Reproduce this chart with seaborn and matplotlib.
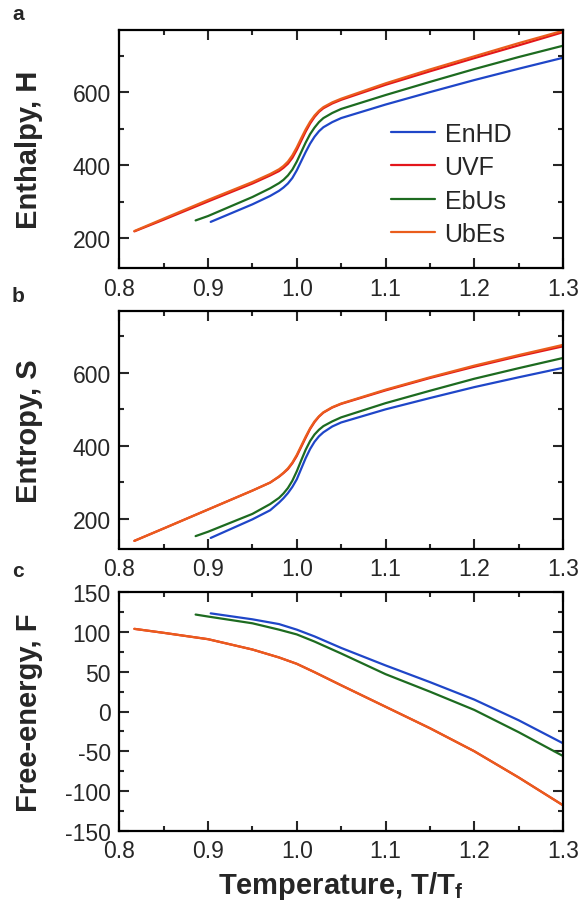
"""
Thermodynamic curves (H, S, F) vs reduced temperature for four models.
Writes out.png (584 x 903 px).
"""

import matplotlib
matplotlib.use("Agg")
import matplotlib.pyplot as plt
from matplotlib.ticker import MultipleLocator
import pandas as pd
import seaborn as sns

# ── Data ─────────────────────────────────────────────────────────────────────
MODELS = ["EnHD", "UVF", "EbUs", "UbEs"]

# temperature grids, T/Tf, for panels a and b (denser through the transition)
T_ENHD = [0.903, 0.95, 0.97, 0.98, 0.985, 0.99, 0.995, 1.0, 1.005, 1.01,
          1.015, 1.02, 1.025, 1.03, 1.04, 1.05, 1.1, 1.15, 1.2, 1.25, 1.3]
T_EBUS = [0.886, 0.9, 0.95, 0.97, 0.98, 0.985, 0.99, 0.995, 1.0, 1.005, 1.01,
          1.015, 1.02, 1.025, 1.03, 1.04, 1.05, 1.1, 1.15, 1.2, 1.25, 1.3]
T_UVF = [0.817, 0.85, 0.9, 0.95, 0.97, 0.98, 0.985, 0.99, 0.995, 1.0, 1.005,
         1.01, 1.015, 1.02, 1.025, 1.03, 1.04, 1.05, 1.1, 1.15, 1.2, 1.25, 1.3]
T_UBES = T_UVF

# panel a – enthalpy H
H_ENHD = [245, 293, 316, 330, 339, 350, 365, 386, 411, 436, 459,
          478, 493, 504, 518, 529, 566, 600, 633, 664, 694]
H_EBUS = [249, 261, 313, 337, 351, 360, 372, 388, 410, 436, 462,
          485, 503, 518, 529, 543, 554, 592, 628, 663, 696, 727]
H_UVF = [219, 251, 301, 350, 372, 384, 393, 404, 420, 442, 467,
         492, 514, 532, 546, 556, 569, 579, 620, 657, 693, 728, 764]
H_UBES = [220, 254, 305, 354, 376, 389, 398, 410, 427, 449, 474,
          498, 519, 536, 549, 559, 572, 582, 624, 662, 698, 734, 768]

# panel b – entropy S
S_ENHD = [147, 198, 223, 244, 256, 270, 287, 308, 337, 366, 391,
          411, 426, 437, 453, 464, 500, 531, 561, 588, 614]
S_EBUS = [152, 164, 213, 240, 257, 269, 284, 304, 330, 360, 389,
          413, 431, 444, 454, 467, 478, 517, 551, 584, 613, 641]
S_UVF = [139, 173, 225, 277, 299, 315, 325, 336, 352, 372, 397,
         422, 446, 465, 480, 491, 505, 515, 552, 586, 617, 646, 673]
S_UBES = [139, 173, 225, 277, 299, 316, 326, 338, 354, 375, 400,
          425, 448, 467, 481, 492, 506, 516, 554, 588, 620, 649, 677]

# panel c – free energy F (smooth, coarser grid is enough)
TC_ENHD = [0.903, 0.95, 0.98, 1.0, 1.02, 1.05, 1.1, 1.15, 1.2, 1.25, 1.3]
TC_EBUS = [0.886, 0.9, 0.95, 0.98, 1.0, 1.02, 1.05, 1.1, 1.15, 1.2, 1.25, 1.3]
TC_UVF = [0.817, 0.85, 0.9, 0.95, 0.98, 1.0, 1.02, 1.05, 1.1, 1.15, 1.2,
          1.25, 1.3]
TC_UBES = TC_UVF
F_ENHD = [123.5, 116, 110, 103, 94.5, 80, 58, 37, 15, -11, -40]
F_EBUS = [122, 119.5, 111, 103, 97, 88, 73, 47, 25, 2, -26, -56]
F_UVF = [104, 99, 91, 78, 68, 60, 49.5, 33, 6, -21, -50, -83, -118]
F_UBES = F_UVF

PALETTE = {"EnHD": "#1f46c8", "UVF": "#e3151b",
           "EbUs": "#1d6b20", "UbEs": "#ea5d1c"}

# ── Style ────────────────────────────────────────────────────────────────────
sns.set_style("ticks")
plt.rcParams.update({
    "font.family": ["Liberation Sans", "DejaVu Sans"],
    "mathtext.fontset": "custom",
    "mathtext.rm": "Liberation Sans",
    "mathtext.bf": "Liberation Sans:bold",
    "axes.unicode_minus": False,
    "axes.linewidth": 1.6,
    "axes.edgecolor": "black",
})


def long_frame(temps, ys):
    """Stack the four series of one panel into a tidy frame."""
    rows = []
    for model, t, y in zip(MODELS, temps, ys):
        rows += [{"T": a, "val": b, "model": model} for a, b in zip(t, y)]
    return pd.DataFrame(rows)


def style_axis(ax, ylim, ymajor, yminor, ylabel):
    ax.set_xlim(0.8, 1.3)
    ax.set_ylim(*ylim)
    ax.xaxis.set_major_locator(MultipleLocator(0.1))
    ax.xaxis.set_minor_locator(MultipleLocator(0.05))
    ax.yaxis.set_major_locator(MultipleLocator(ymajor))
    ax.yaxis.set_minor_locator(MultipleLocator(yminor))
    ax.tick_params(which="both", direction="in", top=True, right=True,
                   width=1.5, labelsize=16.5, pad=6)
    ax.tick_params(which="major", length=7.5)
    ax.tick_params(which="minor", length=3.8)
    ax.xaxis.set_major_formatter(plt.FormatStrFormatter("%.1f"))
    ax.set_xlabel("")
    ax.set_ylabel(ylabel, fontsize=21, fontweight="bold")
    ax.yaxis.set_label_coords(-0.172, 0.5)
    for s in ax.spines.values():
        s.set_visible(True)
        s.set_linewidth(1.6)


fig = plt.figure(figsize=(5.84, 9.03), dpi=100)
L, W = 119.3 / 584, (563 - 119.3) / 584
tops = [31, 312, 593.3]
bots = [269.3, 549.5, 831.7]
axes = [fig.add_axes([L, 1 - b / 903, W, (b - t) / 903]) for t, b in zip(tops, bots)]

ab_temps = [T_ENHD, T_UVF, T_EBUS, T_UBES]
c_temps = [TC_ENHD, TC_UVF, TC_EBUS, TC_UBES]
panels = [
    (ab_temps, [H_ENHD, H_UVF, H_EBUS, H_UBES], (118, 770), 200, 100, "Enthalpy, H"),
    (ab_temps, [S_ENHD, S_UVF, S_EBUS, S_UBES], (118, 770), 200, 100, "Entropy, S"),
    (c_temps, [F_ENHD, F_UVF, F_EBUS, F_UBES], (-150, 150), 50, 25, "Free-energy, F"),
]

for i, (ax, (temps, ys, ylim, ymaj, ymin, lab)) in enumerate(zip(axes, panels)):
    df = long_frame(temps, ys)
    sns.lineplot(data=df, x="T", y="val", hue="model", hue_order=MODELS,
                 palette=PALETTE, sort=False, estimator=None,
                 linewidth=1.6, legend=(i == 0), ax=ax)
    style_axis(ax, ylim, ymaj, ymin, lab)

leg = axes[0].legend(loc="upper left", bbox_to_anchor=(0.612, 0.615),
                     frameon=False, fontsize=18, handlelength=1.75,
                     handletextpad=0.4, labelspacing=0.38,
                     borderpad=0, borderaxespad=0)
for h in leg.get_lines():
    h.set_linewidth(1.6)

axes[2].set_xlabel(r"Temperature, T/T$_\mathbf{f}$", fontsize=21,
                   fontweight="bold", labelpad=5)

for letter, y in zip("abc", [15, 297, 572]):
    fig.text(12 / 584, 1 - y / 903, letter, fontsize=15, fontweight="bold",
             ha="left", va="center")

fig.savefig("out.png", dpi=100)
